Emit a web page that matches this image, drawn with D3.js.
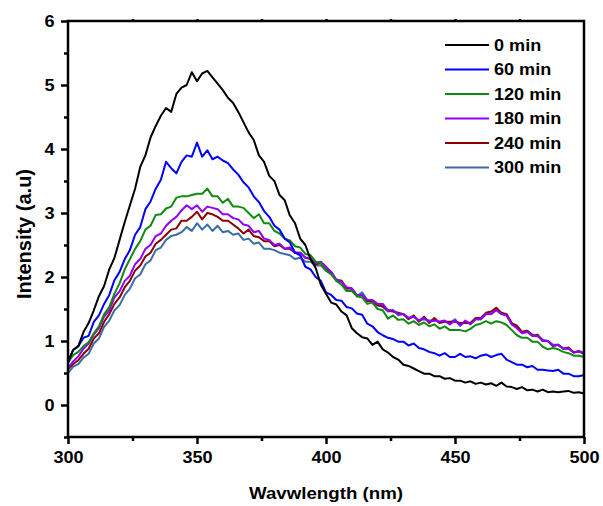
<!DOCTYPE html>
<html>
<head>
<meta charset="utf-8">
<script src="https://cdn.jsdelivr.net/npm/d3@7"></script>
<style>
  html, body { margin: 0; padding: 0; background: #fff; }
  svg { display: block; font-family: Arial, "Liberation Sans", sans-serif; }
</style>
</head>
<body>
<div id="chart"></div>
<script>
// wavelength grid (nm)
const wavelengths = [300,302,304,306,308,310,312,314,316,318,320,322,324,326,328,330,332,334,336,338,
  340,342,344,346,348,350,352,354,356,358,360,362,364,366,368,370,372,374,376,378,
  380,382,384,386,388,390,392,394,396,398,400,402,404,406,408,410,412,414,416,418,
  420,422,424,426,428,430,432,434,436,438,440,442,444,446,448,450,452,454,456,458,
  460,462,464,466,468,470,472,474,476,478,480,482,484,486,488,490,492,494,496,498,500];

const min0 = [0.68,0.86,0.92,1.14,1.28,1.48,1.70,1.86,2.12,2.30,2.58,2.86,3.12,3.38,3.72,3.90,4.18,4.36,4.52,4.64,
  4.58,4.86,4.96,5.00,5.20,5.06,5.18,5.22,5.12,5.02,4.92,4.80,4.72,4.58,4.42,4.26,4.14,3.90,3.80,3.58,
  3.50,3.28,3.20,2.96,2.84,2.60,2.50,2.28,2.14,1.88,1.74,1.60,1.57,1.46,1.40,1.20,1.12,1.06,1.04,0.94,
  0.99,0.87,0.82,0.75,0.71,0.63,0.61,0.57,0.53,0.49,0.49,0.45,0.45,0.41,0.42,0.38,0.38,0.35,0.37,0.33,
  0.35,0.32,0.34,0.30,0.35,0.29,0.28,0.25,0.28,0.23,0.24,0.21,0.24,0.20,0.21,0.20,0.21,0.22,0.19,0.20,0.18];

const min60 = [0.66,0.86,0.92,1.05,1.08,1.30,1.40,1.58,1.72,1.95,2.08,2.28,2.42,2.66,2.78,3.06,3.18,3.38,3.52,3.80,
  3.70,3.62,3.80,3.90,3.88,4.10,3.88,3.98,3.84,3.88,3.82,3.78,3.68,3.60,3.48,3.40,3.26,3.17,3.03,2.94,
  2.80,2.74,2.60,2.54,2.38,2.34,2.16,2.12,2.00,1.94,1.76,1.72,1.64,1.63,1.53,1.51,1.43,1.41,1.27,1.23,
  1.14,1.09,1.05,1.03,0.99,0.99,0.93,0.96,0.89,0.87,0.83,0.81,0.77,0.81,0.75,0.75,0.80,0.75,0.76,0.73,
  0.77,0.79,0.75,0.78,0.80,0.71,0.67,0.63,0.63,0.59,0.61,0.55,0.55,0.54,0.53,0.55,0.49,0.49,0.45,0.45,0.47];

const min120 = [0.66,0.78,0.83,0.92,0.98,1.12,1.23,1.42,1.53,1.74,1.90,2.12,2.28,2.44,2.56,2.74,2.80,2.97,2.98,3.07,
  3.10,3.24,3.26,3.26,3.28,3.30,3.30,3.38,3.26,3.26,3.16,3.22,3.10,3.10,3.08,3.00,2.92,2.98,2.84,2.84,
  2.72,2.68,2.60,2.57,2.48,2.46,2.36,2.34,2.24,2.22,2.10,2.04,1.94,1.88,1.78,1.78,1.70,1.68,1.58,1.60,
  1.50,1.48,1.35,1.40,1.33,1.34,1.27,1.31,1.25,1.29,1.23,1.26,1.19,1.23,1.17,1.17,1.17,1.15,1.19,1.25,
  1.27,1.31,1.27,1.31,1.29,1.25,1.17,1.09,1.05,1.05,0.99,0.99,0.91,0.87,0.89,0.87,0.83,0.81,0.77,0.77,0.75];

const min180 = [0.58,0.68,0.76,0.88,0.96,1.10,1.20,1.38,1.48,1.68,1.78,1.94,2.02,2.20,2.28,2.44,2.50,2.64,2.68,2.80,
  2.88,2.94,3.04,3.12,3.06,3.12,3.02,3.10,3.08,3.06,2.98,2.98,2.92,2.90,2.82,2.80,2.70,2.72,2.60,2.58,
  2.50,2.52,2.44,2.46,2.38,2.38,2.30,2.30,2.22,2.24,2.16,2.08,1.96,1.92,1.84,1.82,1.72,1.72,1.64,1.64,
  1.58,1.58,1.48,1.48,1.42,1.42,1.36,1.38,1.32,1.36,1.30,1.32,1.30,1.32,1.26,1.32,1.24,1.32,1.26,1.34,
  1.34,1.42,1.42,1.48,1.42,1.40,1.26,1.20,1.12,1.14,1.08,1.08,1.00,1.00,0.92,0.94,0.88,0.88,0.82,0.84,0.80];

const min240 = [0.56,0.64,0.70,0.80,0.88,1.04,1.12,1.30,1.42,1.58,1.68,1.84,1.94,2.10,2.18,2.32,2.38,2.52,2.58,2.66,
  2.74,2.76,2.88,2.88,2.94,3.02,2.90,3.00,2.98,2.94,2.88,2.88,2.82,2.76,2.68,2.74,2.64,2.62,2.56,2.56,
  2.48,2.50,2.44,2.44,2.38,2.38,2.30,2.28,2.20,2.22,2.12,2.08,1.94,1.94,1.82,1.82,1.70,1.72,1.62,1.62,
  1.56,1.54,1.48,1.46,1.44,1.42,1.34,1.40,1.30,1.38,1.28,1.36,1.28,1.30,1.30,1.30,1.28,1.28,1.28,1.36,
  1.36,1.44,1.46,1.52,1.44,1.42,1.28,1.24,1.14,1.16,1.08,1.10,1.00,1.00,0.92,0.94,0.88,0.90,0.82,0.84,0.80];

const min300 = [0.50,0.60,0.64,0.74,0.80,0.96,1.04,1.22,1.32,1.48,1.56,1.72,1.82,1.98,2.04,2.20,2.26,2.42,2.46,2.58,
  2.64,2.66,2.70,2.78,2.72,2.84,2.74,2.82,2.72,2.80,2.70,2.72,2.66,2.68,2.58,2.60,2.52,2.54,2.44,2.44,
  2.42,2.38,2.36,2.34,2.28,2.30,2.24,2.24,2.18,2.18,2.10,2.06,1.96,1.94,1.82,1.82,1.70,1.76,1.64,1.62,
  1.56,1.54,1.46,1.48,1.40,1.42,1.36,1.38,1.32,1.34,1.32,1.32,1.30,1.30,1.28,1.34,1.24,1.30,1.28,1.34,
  1.34,1.42,1.42,1.50,1.42,1.40,1.26,1.22,1.14,1.16,1.10,1.08,1.02,1.00,0.94,0.94,0.88,0.88,0.82,0.84,0.82];

const seriesNames = ['0 min', '60 min', '120 min', '180 min', '240 min', '300 min'];
const seriesValues = [min0, min60, min120, min180, min240, min300];
const seriesColors = ['#000000', '#0000ff', '#108a10', '#8f00ff', '#8b0000', '#3a6ea5'];

const xTicks = [300, 350, 400, 450, 500];
const yTicks = [0, 1, 2, 3, 4, 5, 6];

const W = 603, H = 506;
const margin = { top: 21, right: 19, bottom: 69, left: 68 };
// the source text is a little wider than plain Arial Bold
const stretch = 1.13;

const svg = d3.select('#chart').append('svg')
  .attr('width', W)
  .attr('height', H);

const x = d3.scaleLinear().domain([300, 500]).range([margin.left, W - margin.right]);
const y = d3.scaleLinear().domain([-0.5, 6]).range([H - margin.bottom, margin.top]);

const line = d3.line()
  .x((d, i) => x(wavelengths[i]))
  .y(d => y(d));

const plot = svg.append('g');
// reverse order so 0 min ends on top
seriesValues.map((v, i) => i).reverse().forEach(i => {
  plot.append('path')
    .datum(seriesValues[i])
    .attr('fill', 'none')
    .attr('stroke', seriesColors[i])
    .attr('stroke-width', 2)
    .attr('stroke-linejoin', 'round')
    .attr('d', line);
});

// frame
svg.append('rect')
  .attr('x', x(300))
  .attr('y', y(6))
  .attr('width', x(500) - x(300))
  .attr('height', y(-0.5) - y(6))
  .attr('fill', 'none')
  .attr('stroke', '#000')
  .attr('stroke-width', 2.5);

const xMinor = d3.axisBottom(x).tickValues([325, 375, 425, 475]).tickSize(4).tickFormat('');
const yMinor = d3.axisLeft(y).tickValues([-0.5, 0.5, 1.5, 2.5, 3.5, 4.5, 5.5]).tickSize(4).tickFormat('');

const xAxis = d3.axisBottom(x).tickValues(xTicks).tickSize(7).tickPadding(8).tickFormat(d3.format('d'));
const yAxis = d3.axisLeft(y).tickValues(yTicks).tickSize(7).tickPadding(5).tickFormat(d3.format('d'));

function styleAxis(g) {
  g.select('.domain').remove();
  g.selectAll('line').attr('stroke', '#000').attr('stroke-width', 2.5);
  g.selectAll('text')
    .attr('fill', '#000')
    .attr('transform', `scale(${stretch},1)`)
    .style('font-size', '16px')
    .style('font-weight', 'bold')
    .style('font-family', 'Arial, "Liberation Sans", sans-serif');
}

svg.append('g').attr('transform', `translate(0,${y(-0.5)})`).call(xMinor).call(styleAxis);
svg.append('g').attr('transform', `translate(${x(300)},0)`).call(yMinor).call(styleAxis);
svg.append('g').attr('transform', `translate(0,${y(-0.5)})`).call(xAxis).call(styleAxis);
svg.append('g').attr('transform', `translate(${x(300)},0)`).call(yAxis).call(styleAxis);

// tiny ticks on the top edge
svg.append('g').attr('transform', `translate(0,${y(6)})`)
  .call(d3.axisTop(x).tickValues([325, 350, 375, 400, 425, 450, 475]).tickSize(2).tickFormat(''))
  .call(styleAxis);

// axis titles
svg.append('text')
  .attr('transform', `translate(${(x(300) + x(500)) / 2},499) scale(1.1,1)`)
  .attr('text-anchor', 'middle')
  .style('font-size', '17px')
  .style('font-weight', 'bold')
  .text('Wavwlength (nm)');

svg.append('text')
  .attr('transform', `translate(31,${(y(6) + y(-0.5)) / 2 + 5}) rotate(-90)`)
  .attr('text-anchor', 'middle')
  .style('font-size', '20px')
  .style('font-weight', 'bold')
  .text('Intensity (a.u)');

// legend
const legend = svg.append('g').attr('transform', 'translate(445,45)');
seriesNames.forEach((name, i) => {
  const row = legend.append('g').attr('transform', `translate(0,${i * 24.5})`);
  row.append('line')
    .attr('x1', 0).attr('x2', 44)
    .attr('y1', 0).attr('y2', 0)
    .attr('stroke', seriesColors[i])
    .attr('stroke-width', 2);
  row.append('text')
    .attr('transform', `translate(49,0) scale(${stretch},1)`)
    .attr('dy', '0.36em')
    .style('font-size', '16px')
    .style('font-weight', 'bold')
    .text(name);
});
</script>
</body>
</html>
